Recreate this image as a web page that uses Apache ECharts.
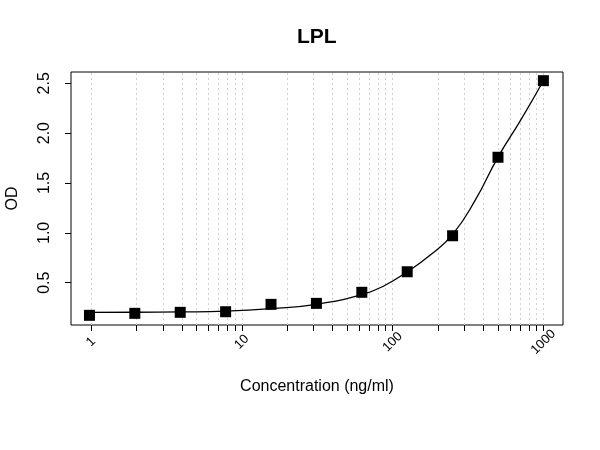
<!DOCTYPE html>
<html>
<head>
<meta charset="utf-8">
<script src="https://cdn.jsdelivr.net/npm/echarts@6/dist/echarts.min.js"></script>
<style>
  html, body { margin: 0; padding: 0; background: #fff; }
  #chart { width: 600px; height: 450px; }
</style>
</head>
<body>
<div id="chart"></div>
<script>
// standards (ng/ml) and measured OD
var concentrations = [0.977, 1.953, 3.906, 7.8125, 15.625, 31.25, 62.5, 125, 250, 500, 1000];
var odValues = [0.173, 0.193, 0.203, 0.209, 0.283, 0.293, 0.404, 0.61, 0.971, 1.758, 2.526];

// fitted curve
var fitConc = [0.977, 1.953, 3.906, 7.8125, 15.625, 31.25, 62.5, 88, 125, 177, 250, 354, 500, 707, 1000];
var fitOD = [0.203, 0.204, 0.207, 0.215, 0.240, 0.283, 0.380, 0.47, 0.61, 0.775, 0.985, 1.33, 1.76, 2.13, 2.525];

var xLabels = [1, 10, 100, 1000];
var xMinor = [1, 2, 3, 4, 5, 6, 7, 8, 9, 10, 20, 30, 40, 50, 60, 70, 80, 90,
              100, 200, 300, 400, 500, 600, 700, 800, 900, 1000];
var yLabels = [0.5, 1.0, 1.5, 2.0, 2.5];

var font = '"Liberation Sans", Arial, sans-serif';

var myChart = echarts.init(document.getElementById('chart'));

var pairs = function (xs, ys) {
    var out = [];
    for (var i = 0; i < xs.length; i++) out.push([xs[i], ys[i]]);
    return out;
};

var option = {
    backgroundColor: '#fff',
    animation: false,
    title: {
        text: 'LPL',
        left: 297,
        top: 27,
        padding: 0,
        textStyle: { fontFamily: font, fontSize: 21, fontWeight: 'bold', color: '#000' }
    },
    grid: {
        left: 71, right: 37, top: 72, bottom: 125,
        outerBoundsMode: 'none',
        containLabel: false,
        show: true, borderColor: '#000', borderWidth: 1, backgroundColor: 'transparent'
    },
    xAxis: {
        type: 'log',
        min: 0.737,
        max: 1349,
        name: 'Concentration (ng/ml)',
        nameLocation: 'middle',
        nameGap: 54,
        nameTextStyle: { fontFamily: font, fontSize: 16, color: '#000' },
        axisLine: { show: false },
        axisTick: {
            show: true, length: 6, customValues: xMinor,
            lineStyle: { color: '#000', width: 1 }
        },
        axisLabel: {
            customValues: xLabels,
            rotate: 45,
            align: 'center',
            verticalAlign: 'middle',
            margin: 17,
            fontFamily: font, fontSize: 13, color: '#000',
            formatter: function (v) { return String(Math.round(v)); }
        },
        splitLine: { show: false }
    },
    yAxis: {
        type: 'value',
        min: 0.076,
        max: 2.613,
        name: 'OD',
        nameLocation: 'middle',
        nameGap: 50,
        nameRotate: 90,
        nameTextStyle: { fontFamily: font, fontSize: 16, color: '#000' },
        axisLine: { show: false },
        axisTick: {
            show: true, length: 6, customValues: yLabels,
            lineStyle: { color: '#000', width: 1 }
        },
        axisLabel: {
            customValues: yLabels,
            rotate: 90,
            margin: 18,
            fontFamily: font, fontSize: 16, color: '#000',
            formatter: function (v) { return v.toFixed(1); }
        },
        splitLine: { show: false }
    },
    series: [
        {
            type: 'line',
            data: pairs(fitConc, fitOD),
            smooth: 0.5,
            showSymbol: false,
            symbol: 'none',
            lineStyle: { color: '#000', width: 1.3 },
            z: 3,
            markLine: {
                silent: true,
                z: 1,
                symbol: 'none',
                label: { show: false },
                lineStyle: { color: '#d0d0d0', type: [2, 3], width: 1 },
                data: xMinor.map(function (v) { return { xAxis: v }; })
            }
        },
        {
            type: 'scatter',
            data: pairs(concentrations, odValues),
            symbol: 'rect',
            symbolSize: 11,
            itemStyle: { color: '#000', opacity: 1 },
            z: 4
        }
    ]
};

option && myChart.setOption(option);
</script>
</body>
</html>
